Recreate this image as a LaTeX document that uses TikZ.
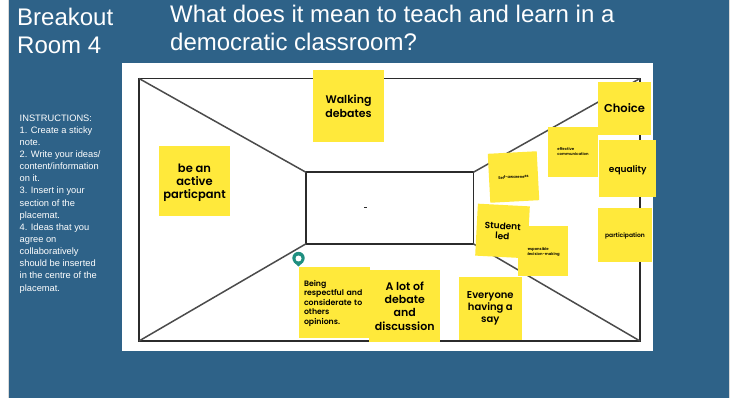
\documentclass[tikz,border=0pt]{standalone}
\usepackage{fontspec}
\setmainfont{Liberation Sans}
\newfontfamily\stickyfont{Poppins}[BoldFont={Poppins SemiBold}]
\definecolor{slideblue}{HTML}{2E6288}
\definecolor{stickyyellow}{HTML}{FFE93B}
\definecolor{lineblack}{HTML}{2B2B2B}
\definecolor{pingreen}{HTML}{1F8F80}
\tikzset{
  x=1pt,y=-1pt,
  sticky/.style={fill=stickyyellow,inner sep=0pt,align=center,text=black},
  frameline/.style={draw=lineblack,line width=1.6pt},
  diagline/.style={draw=lineblack!85,line width=1.5pt},
  titletext/.style={text=white,anchor=north west,inner sep=0pt,align=left},
}
\begin{document}
\begin{tikzpicture}
\useasboundingbox (0,0) rectangle (734,398);
\fill[white] (0,0) rectangle (734,398);
\fill[black!15] (8,0) rectangle (730,398);
\fill[slideblue] (9,0) rectangle (729,398);
\node[titletext,font=\fontsize{24}{28.3}\selectfont] (room) at (17,8) {Breakout\\Room 4};
\node[titletext,font=\fontsize{24}{28.5}\selectfont] (question) at (170,4.5) {What does it mean to teach and learn in a\\democratic classroom?};
\node[titletext,font=\fontsize{9.3}{12.13}\selectfont] (instr) at (19.5,114.5) {INSTRUCTIONS:\\1. Create a sticky\\note.\\2. Write your ideas/\\content/information\\on it.\\3. Insert in your\\section of the\\placemat.\\4. Ideas that you\\agree on\\collaboratively\\should be inserted\\in the centre of the\\placemat.};
\fill[white] (122,63.5) rectangle (653,351);
\coordinate (tl) at (139,78.5);
\coordinate (tr) at (640,78.5);
\coordinate (br) at (640,341);
\coordinate (bl) at (139,341);
\coordinate (itl) at (306,172.3);
\coordinate (itr) at (473.3,172.3);
\coordinate (ibr) at (473.3,243.8);
\coordinate (ibl) at (306,243.8);
\draw[frameline] (tl) -- (tr) -- (br) -- (bl) -- cycle;
\draw[frameline] (itl) -- (itr) -- (ibr) -- (ibl) -- cycle;
\draw[diagline] (tl) -- (itl) (tr) -- (itr) (br) -- (ibr) (bl) -- (ibl);
\fill[lineblack] (364,207.5) rectangle (366.5,208.5);
\fill[pingreen] (298.5,258) circle (6.2);
\fill[pingreen] (293.5,262) -- (303.5,262) -- (298.5,266.5) -- cycle;
\fill[white] (298.5,258.5) circle (3);
% stickies
\node[sticky,minimum width=71pt,minimum height=72pt,font=\stickyfont\bfseries\fontsize{11}{14.5}\selectfont] (walk) at (348.5,106) {Walking\\debates};
\node[sticky,minimum width=71pt,minimum height=70pt,font=\stickyfont\bfseries\fontsize{11.5}{13.2}\selectfont] (active) at (194.5,181) {\rule{0pt}{12.5pt}be an\\active\\particpant};
\node[sticky,minimum width=53pt,minimum height=53pt,font=\stickyfont\bfseries\fontsize{11.5}{14}\selectfont] (choice) at (624.5,108.5) {Choice};
\node[sticky,minimum width=50pt,minimum height=50pt,font=\stickyfont\bfseries\fontsize{3.8}{5}\selectfont,align=left] (comm) at (573,152) {effective\\communication};
\node[sticky,minimum width=57pt,minimum height=57pt,font=\stickyfont\bfseries\fontsize{9}{11}\selectfont] (equal) at (627.8,168.5) {\rule{0pt}{10pt}equality};
\node[sticky,minimum width=49pt,minimum height=49pt,rotate=3,font=\stickyfont\bfseries\fontsize{3.8}{5}\selectfont] (self) at (513.5,177) {Self-awareness};
\node[sticky,minimum width=54pt,minimum height=54pt,font=\stickyfont\bfseries\fontsize{6}{8}\selectfont] (part) at (625,235) {\rule{0pt}{6pt}participation};
\node[sticky,minimum width=50pt,minimum height=50pt,font=\stickyfont\bfseries\fontsize{3.8}{5}\selectfont,align=left] (resp) at (543,251) {\rule{0pt}{4.5pt}responsible\\decision-making};
\node[sticky,minimum width=52pt,minimum height=52pt,rotate=-3,font=\stickyfont\bfseries\fontsize{9}{10}\selectfont] (student) at (502.5,231) {Student\\led};
\node[sticky,minimum width=63pt,minimum height=63pt,font=\stickyfont\bfseries\fontsize{10}{11.7}\selectfont] (everyone) at (490.3,308.5) {Everyone\\having a\\say};
\node[sticky,minimum width=71pt,minimum height=71pt,align=left,text width=60pt,font=\stickyfont\bfseries\fontsize{7.8}{9.6}\selectfont] (respect) at (334,302.5) {\rule{0pt}{7.5pt}Being\\respectful and\\considerate to\\others\\opinions.};
\node[sticky,minimum width=71pt,minimum height=71pt,font=\stickyfont\bfseries\fontsize{11}{13.3}\selectfont] (debate) at (404.7,306) {A lot of\\debate\\and\\discussion};
\end{tikzpicture}
\end{document}
